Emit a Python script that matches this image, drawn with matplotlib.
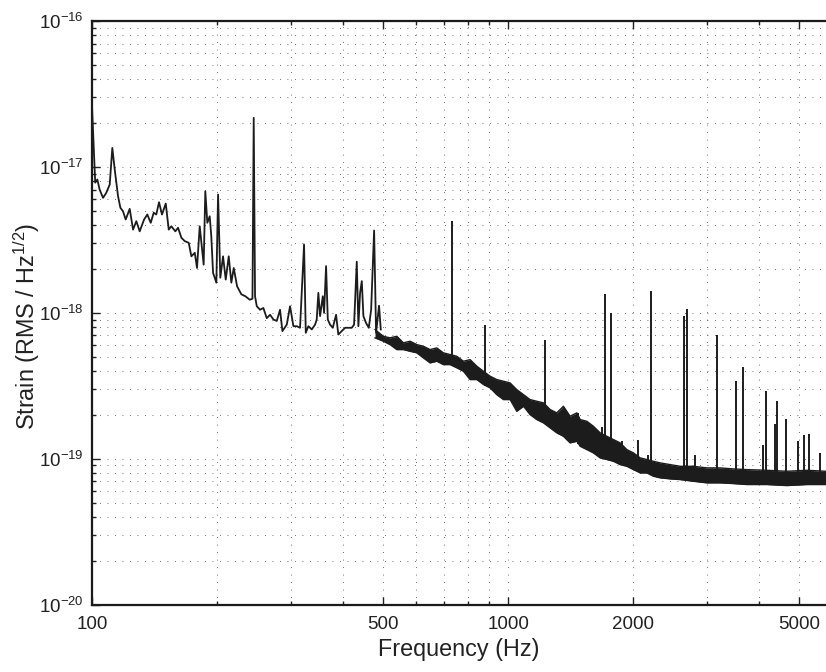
import numpy as np
import matplotlib
matplotlib.use("Agg")
import matplotlib.pyplot as plt
from matplotlib.ticker import FixedLocator, FixedFormatter, NullFormatter

plt.rcParams['font.family'] = ['Liberation Sans', 'DejaVu Sans']
plt.rcParams['mathtext.default'] = 'regular'

# ---- data (strain values in units of 1e-18 RMS/Hz^1/2) ----
low_freq = [100.0, 101.8, 103.0, 104.3, 106.3, 108.2, 110.3, 111.9, 113.4, 115.5,
            117.0, 118.7, 120.5, 123.2, 125.5, 127.8, 130.2, 133.4, 135.8, 138.4,
            140.7, 142.7, 144.9, 147.3, 150.4, 152.9, 155.1, 158.6, 161.0, 164.0,
            167.1, 170.8, 173.3, 176.6, 178.8, 181.5, 185.5, 187.2, 189.3, 191.8,
            193.5, 195.4, 199.0, 200.9, 203.4, 206.5, 209.6, 213.1, 216.2, 219.1,
            223.2, 228.5, 233.6, 239.4, 243.0, 244.7, 246.5, 248.9, 253.4, 258.1,
            263.0, 267.9, 272.9, 278.0, 283.1, 286.8, 293.8, 299.2, 304.8, 310.6,
            316.2, 323.3, 326.4, 331.1, 337.4, 343.6, 346.8, 349.9, 353.3, 358.6,
            361.2, 365.2, 368.7, 373.4, 379.0, 386.0, 390.8, 398.3, 405.7, 413.2,
            421.0, 426.4, 432.8, 436.7, 440.8, 445.0, 449.0, 455.8, 462.6, 468.6,
            476.4, 481.6, 489.6, 494.3]
low_strain = [26.0, 7.8, 8.2, 7.0, 6.14, 6.64, 7.57, 13.5, 9.6, 6.3,
              5.25, 4.97, 4.36, 5.16, 3.72, 4.25, 3.62, 4.36, 4.72, 4.14,
              4.85, 4.72, 5.73, 4.72, 5.61, 3.72, 3.92, 3.62, 3.83, 3.27,
              3.10, 3.02, 2.44, 2.58, 2.03, 3.92, 2.14, 6.81, 4.14, 4.59,
              3.35, 1.88, 1.61, 6.47, 1.74, 2.44, 1.69, 2.44, 1.61, 2.03,
              1.52, 1.34, 1.30, 1.23, 1.25, 21.7, 1.30, 1.11, 1.05, 1.08,
              0.92, 0.97, 0.90, 0.88, 1.05, 0.75, 0.83, 1.11, 0.81, 0.81,
              0.79, 2.94, 0.73, 0.81, 0.77, 0.83, 0.90, 1.37, 0.95, 1.30,
              1.00, 2.09, 0.90, 0.83, 0.79, 0.97, 0.71, 0.75, 0.79, 0.79,
              0.79, 0.83, 2.24, 0.81, 1.37, 1.65, 0.95, 0.85, 0.79, 1.05,
              3.67, 0.73, 1.12, 0.77]

# noisy high-frequency band: lower / upper envelopes
band_freq = [478.8, 501.4, 520.3, 540.2, 560.3, 581.4, 603.3, 625.8, 649.4, 673.9,
             699.0, 725.4, 752.8, 780.8, 810.4, 840.9, 872.1, 905.1, 939.2, 974.3,
             1011, 1049, 1089, 1129, 1172, 1216, 1262, 1309, 1358, 1409,
             1463, 1490, 1546, 1603, 1664, 1727, 1791, 1859, 1929, 2001,
             2077, 2155, 2235, 2320, 2452, 2592, 2789, 3003, 3233, 3480,
             3748, 4188, 4677, 5224, 5807]
band_lower = [0.674, 0.639, 0.606, 0.560, 0.560, 0.545, 0.532, 0.491, 0.454, 0.466,
              0.442, 0.442, 0.420, 0.398, 0.349, 0.349, 0.323, 0.306, 0.275, 0.2545,
              0.2545, 0.2116, 0.229, 0.2009, 0.1856, 0.1762, 0.1628, 0.1505, 0.1426, 0.1285,
              0.1318, 0.1218, 0.1156, 0.1097, 0.1014, 0.0988, 0.0961, 0.0912, 0.0888, 0.0843,
              0.0800, 0.0800, 0.0759, 0.0740, 0.0728, 0.0720, 0.0701, 0.0684, 0.0684, 0.0676,
              0.0666, 0.0666, 0.0655, 0.0666, 0.0666]
band_upper = [0.768, 0.691, 0.674, 0.691, 0.623, 0.639, 0.606, 0.590, 0.560, 0.575,
              0.532, 0.518, 0.504, 0.466, 0.478, 0.431, 0.398, 0.368, 0.349, 0.340,
              0.331, 0.298, 0.275, 0.2545, 0.2478, 0.2416, 0.2174, 0.2063, 0.229, 0.1956,
              0.2063, 0.1856, 0.1807, 0.1670, 0.1505, 0.1426, 0.1354, 0.1285, 0.1156, 0.1097,
              0.1014, 0.0988, 0.0961, 0.0937, 0.0912, 0.0888, 0.0888, 0.0866, 0.0866, 0.0852,
              0.0843, 0.0834, 0.0821, 0.0834, 0.0821]

spike_freq = [733.4, 882.2, 1225.5, 1476, 1685, 1713, 1765, 1876, 2053, 2174,
              2207, 2645, 2694, 2816, 3180, 3527, 3672, 4109, 4165, 4384,
              4425, 4650, 4971, 5139, 5283, 5623]
spike_peak = [4.29, 0.82, 0.65, 0.206, 0.164, 1.34, 1.00, 0.132, 0.135, 0.106,
              1.41, 0.95, 1.07, 0.106, 0.71, 0.34, 0.427, 0.125, 0.293, 0.172,
              0.249, 0.187, 0.132, 0.1465, 0.149, 0.11]

x_major = [100, 500, 1000, 2000, 5000]
x_major_labels = ['100', '500', '1000', '2000', '5000']
x_minor = [200, 300, 400, 600, 700, 800, 900, 3000, 4000]
y_major = [1e-20, 1e-19, 1e-18, 1e-17, 1e-16]
y_major_labels = [r'$10^{-20}$', r'$10^{-19}$', r'$10^{-18}$', r'$10^{-17}$', r'$10^{-16}$']

UNIT = 1e-18
LINE = '#1c1c1c'
TXT = '#222222'

fig = plt.figure(figsize=(8.26, 6.72), dpi=100)
ax = fig.add_axes([92 / 826, 67.3 / 672, 734 / 826, 583.7 / 672])
ax.set_xscale('log')
ax.set_yscale('log')

lf = np.array(low_freq)
ls = np.array(low_strain) * UNIT
bf = np.array(band_freq)
bl = np.array(band_lower) * UNIT
bu = np.array(band_upper) * UNIT
sf = np.array(spike_freq)
sp = np.array(spike_peak) * UNIT

ax.plot(lf, ls, color=LINE, lw=1.3, zorder=3)
ax.fill_between(bf, bl, bu, color=LINE, lw=0, zorder=3)
ax.plot(bf, bl, color=LINE, lw=1.0, zorder=3)
ax.plot(bf, bu, color=LINE, lw=1.0, zorder=3)
base = np.exp(np.interp(np.log(sf), np.log(bf), np.log(bl)))
ax.vlines(sf, base, sp, color=LINE, lw=1.4, zorder=3)

ax.set_xlim(100, 5807)
ax.set_ylim(1e-20, 1e-16)

ax.xaxis.set_major_locator(FixedLocator(x_major))
ax.xaxis.set_major_formatter(FixedFormatter(x_major_labels))
ax.xaxis.set_minor_locator(FixedLocator(x_minor))
ax.xaxis.set_minor_formatter(NullFormatter())
ax.yaxis.set_major_locator(FixedLocator(y_major))
ax.yaxis.set_major_formatter(FixedFormatter(y_major_labels))
ymin = [m * 10.0 ** e for e in range(-20, -16) for m in range(2, 10)]
ax.yaxis.set_minor_locator(FixedLocator(ymin))
ax.yaxis.set_minor_formatter(NullFormatter())

grid_kw = dict(color='#444444', lw=0.6, linestyle=(0, (1.0, 8.0)))
ax.grid(True, which='both', axis='both', **grid_kw)
ax.set_axisbelow(True)

ax.tick_params(which='both', direction='in', top=True, right=False, colors=TXT,
               labelsize=13.5, width=1.0)
ax.tick_params(which='major', length=6, pad=8)
ax.tick_params(which='minor', length=3)
ax.tick_params(axis='y', which='major', pad=6)

for s in ['left', 'bottom', 'top']:
    ax.spines[s].set_linewidth(1.6)
    ax.spines[s].set_color('#1a1a1a')
ax.spines['right'].set_visible(False)

ax.set_xlabel('Frequency (Hz)', fontsize=16.8, color=TXT, labelpad=4)
ax.set_ylabel(r'Strain (RMS / Hz$^{1/2}$)', fontsize=16.8, color=TXT)
ax.yaxis.set_label_coords(-0.0685, 0.4775)

fig.savefig('out.png', dpi=100)
